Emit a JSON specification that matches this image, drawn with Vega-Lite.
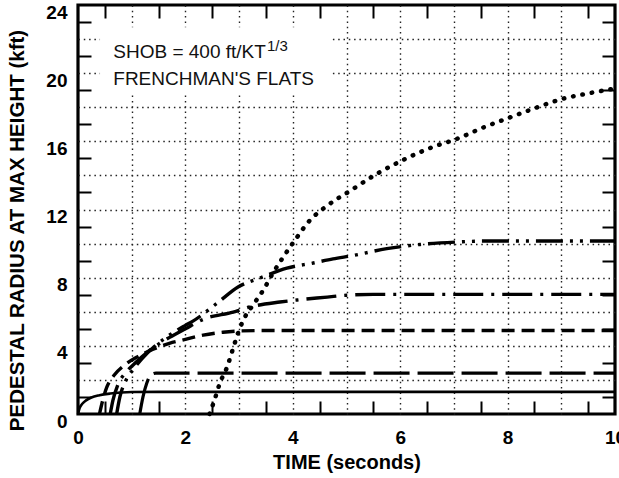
{
  "$schema": "https://vega.github.io/schema/vega-lite/v6.json",
  "width": 537,
  "height": 409,
  "autosize": "none",
  "padding": {"left": 78, "top": 5, "right": 4, "bottom": 64},
  "background": "white",
  "config": {"view": {"stroke": "black", "strokeWidth": 3.2}, "font": "Liberation Sans"},
  "datasets": {
    "curves": [
      {"s": "solid", "t": 0, "r": 0}, {"s": "solid", "t": 0.03, "r": 0.35}, {"s": "solid", "t": 0.08, "r": 0.6}, {"s": "solid", "t": 0.15, "r": 0.8}, {"s": "solid", "t": 0.25, "r": 0.97}, {"s": "solid", "t": 0.4, "r": 1.1}, {"s": "solid", "t": 0.6, "r": 1.2}, {"s": "solid", "t": 0.8, "r": 1.26}, {"s": "solid", "t": 1.0, "r": 1.29}, {"s": "solid", "t": 1.5, "r": 1.3}, {"s": "solid", "t": 10, "r": 1.3},
      {"s": "longdash", "t": 1.15, "r": 0}, {"s": "longdash", "t": 1.21, "r": 1.0}, {"s": "longdash", "t": 1.28, "r": 1.8}, {"s": "longdash", "t": 1.36, "r": 2.3}, {"s": "longdash", "t": 1.45, "r": 2.4}, {"s": "longdash", "t": 10, "r": 2.4},
      {"s": "meddash", "t": 0.4, "r": 0}, {"s": "meddash", "t": 0.46, "r": 0.8}, {"s": "meddash", "t": 0.54, "r": 1.6}, {"s": "meddash", "t": 0.68, "r": 2.3}, {"s": "meddash", "t": 0.88, "r": 2.9}, {"s": "meddash", "t": 1.1, "r": 3.35}, {"s": "meddash", "t": 1.4, "r": 3.8}, {"s": "meddash", "t": 1.7, "r": 4.15}, {"s": "meddash", "t": 2.0, "r": 4.38}, {"s": "meddash", "t": 2.33, "r": 4.63}, {"s": "meddash", "t": 2.7, "r": 4.8}, {"s": "meddash", "t": 3.0, "r": 4.87}, {"s": "meddash", "t": 3.5, "r": 4.9}, {"s": "meddash", "t": 10, "r": 4.9},
      {"s": "dashdot", "t": 0.6, "r": 0}, {"s": "dashdot", "t": 0.65, "r": 0.8}, {"s": "dashdot", "t": 0.74, "r": 1.7}, {"s": "dashdot", "t": 0.88, "r": 2.4}, {"s": "dashdot", "t": 1.05, "r": 2.95}, {"s": "dashdot", "t": 1.3, "r": 3.65}, {"s": "dashdot", "t": 1.6, "r": 4.3}, {"s": "dashdot", "t": 2.0, "r": 5.0}, {"s": "dashdot", "t": 2.33, "r": 5.55}, {"s": "dashdot", "t": 2.89, "r": 5.98}, {"s": "dashdot", "t": 3.2, "r": 6.28}, {"s": "dashdot", "t": 3.76, "r": 6.57}, {"s": "dashdot", "t": 4.08, "r": 6.69}, {"s": "dashdot", "t": 4.64, "r": 6.86}, {"s": "dashdot", "t": 5.0, "r": 6.97}, {"s": "dashdot", "t": 5.5, "r": 7.02}, {"s": "dashdot", "t": 10, "r": 7.02},
      {"s": "dashdotdot", "t": 0.72, "r": 0}, {"s": "dashdotdot", "t": 0.78, "r": 1.0}, {"s": "dashdotdot", "t": 0.88, "r": 1.9}, {"s": "dashdotdot", "t": 1.05, "r": 2.7}, {"s": "dashdotdot", "t": 1.3, "r": 3.6}, {"s": "dashdotdot", "t": 1.6, "r": 4.4}, {"s": "dashdotdot", "t": 2.0, "r": 5.2}, {"s": "dashdotdot", "t": 2.14, "r": 5.45}, {"s": "dashdotdot", "t": 2.59, "r": 6.5}, {"s": "dashdotdot", "t": 2.98, "r": 7.45}, {"s": "dashdotdot", "t": 3.39, "r": 7.98}, {"s": "dashdotdot", "t": 3.89, "r": 8.56}, {"s": "dashdotdot", "t": 4.38, "r": 8.86}, {"s": "dashdotdot", "t": 4.75, "r": 9.1}, {"s": "dashdotdot", "t": 5.12, "r": 9.3}, {"s": "dashdotdot", "t": 5.75, "r": 9.7}, {"s": "dashdotdot", "t": 6.37, "r": 9.95}, {"s": "dashdotdot", "t": 7.1, "r": 10.1}, {"s": "dashdotdot", "t": 7.6, "r": 10.15}, {"s": "dashdotdot", "t": 10, "r": 10.15},
      {"s": "dotted", "t": 2.45, "r": 0}, {"s": "dotted", "t": 2.55, "r": 0.9}, {"s": "dotted", "t": 2.64, "r": 1.8}, {"s": "dotted", "t": 2.77, "r": 2.7}, {"s": "dotted", "t": 2.89, "r": 3.87}, {"s": "dotted", "t": 2.98, "r": 4.75}, {"s": "dotted", "t": 3.11, "r": 5.7}, {"s": "dotted", "t": 3.26, "r": 6.4}, {"s": "dotted", "t": 3.45, "r": 7.27}, {"s": "dotted", "t": 3.63, "r": 8.27}, {"s": "dotted", "t": 3.82, "r": 9.2}, {"s": "dotted", "t": 4.04, "r": 10.2}, {"s": "dotted", "t": 4.3, "r": 11.3}, {"s": "dotted", "t": 4.63, "r": 12.2}, {"s": "dotted", "t": 5.07, "r": 13.1}, {"s": "dotted", "t": 5.57, "r": 14.1}, {"s": "dotted", "t": 6.05, "r": 14.9}, {"s": "dotted", "t": 6.6, "r": 15.66}, {"s": "dotted", "t": 7.06, "r": 16.15}, {"s": "dotted", "t": 7.54, "r": 16.8}, {"s": "dotted", "t": 8.04, "r": 17.4}, {"s": "dotted", "t": 8.47, "r": 17.9}, {"s": "dotted", "t": 9.03, "r": 18.5}, {"s": "dotted", "t": 9.48, "r": 18.8}, {"s": "dotted", "t": 10, "r": 19.1}
    ]
  },
  "resolve": {"axis": {"x": "independent", "y": "independent"}},
  "layer": [
    {
      "data": {"values": [{}]},
      "mark": {"type": "rect", "color": "white"},
      "encoding": {
        "x": {"datum": 0.41, "type": "quantitative", "scale": {"domain": [0, 10], "nice": false, "zero": false},
          "axis": {"orient": "bottom", "values": [1, 2, 3, 4, 5, 6, 7, 8, 9], "grid": true, "gridDash": [1.5, 3.8], "gridColor": "#222", "gridWidth": 1.4, "labels": false, "ticks": false, "domain": false, "title": null}},
        "x2": {"datum": 4.7},
        "y": {"datum": 18.9, "type": "quantitative", "scale": {"domain": [0, 24], "nice": false, "zero": false},
          "axis": {"orient": "left", "values": [2, 4, 6, 8, 10, 12, 14, 16, 18, 20, 22], "grid": true, "gridDash": [1.5, 3.8], "gridColor": "#222", "gridWidth": 1.4, "labels": false, "ticks": false, "domain": false, "title": null}},
        "y2": {"datum": 22.7}
      }
    },
    {
      "data": {"name": "curves"},
      "transform": [{"filter": "datum.s === 'solid'"}],
      "mark": {"type": "line", "color": "black", "strokeWidth": 2.6, "interpolate": "monotone"},
      "encoding": {
        "x": {"field": "t", "type": "quantitative",
          "axis": {"orient": "bottom", "values": [0, 2, 4, 6, 8, 10], "grid": false, "ticks": false, "domain": false, "labelFlush": false, "labelFontSize": 19, "labelFontWeight": "bold", "labelColor": "black", "labelPadding": 14,
            "title": "TIME (seconds)", "titleFontSize": 20, "titleFontWeight": "bold", "titleColor": "black", "titleBaseline": "alphabetic", "titleY": 54}},
        "y": {"field": "r", "type": "quantitative",
          "axis": {"orient": "left", "values": [0, 4, 8, 12, 16, 20, 24], "grid": false, "ticks": false, "domain": false, "labelFlush": false, "labelFontSize": 19, "labelFontWeight": "bold", "labelColor": "black", "labelPadding": 11, "labelOffset": 7,
            "title": "PEDESTAL RADIUS AT MAX HEIGHT (kft)", "titleFontSize": 20.5, "titleFontWeight": "bold", "titleColor": "black", "titleBaseline": "alphabetic", "titleX": -55, "titleY": 225}}
      }
    },
    {
      "data": {"name": "curves"},
      "transform": [{"filter": "datum.s === 'longdash'"}],
      "mark": {"type": "line", "color": "black", "strokeWidth": 3.2, "strokeDash": [36, 8], "interpolate": "monotone"},
      "encoding": {
        "x": {"field": "t", "type": "quantitative",
          "axis": {"orient": "bottom", "values": [0.5, 1.5, 2.5, 3.5, 4.5, 5.5, 6.5, 7.5, 8.5, 9.5], "offset": -13, "tickSize": 13, "tickWidth": 2, "tickColor": "black", "labels": false, "domain": false, "grid": false, "title": null}},
        "y": {"field": "r", "type": "quantitative",
          "axis": {"orient": "left", "values": [1, 3, 5, 7, 9, 11, 13, 15, 17, 19, 21, 23], "offset": -13, "tickSize": 13, "tickWidth": 2, "tickColor": "black", "labels": false, "domain": false, "grid": false, "title": null}}
      }
    },
    {
      "data": {"name": "curves"},
      "transform": [{"filter": "datum.s === 'meddash'"}],
      "mark": {"type": "line", "color": "black", "strokeWidth": 3.4, "strokeDash": [13, 7], "interpolate": "monotone"},
      "encoding": {
        "x": {"field": "t", "type": "quantitative",
          "axis": {"orient": "top", "values": [0.5, 1.5, 2.5, 3.5, 4.5, 5.5, 6.5, 7.5, 8.5, 9.5], "offset": -13, "tickSize": 13, "tickWidth": 2, "tickColor": "black", "labels": false, "domain": false, "grid": false, "title": null}},
        "y": {"field": "r", "type": "quantitative",
          "axis": {"orient": "right", "values": [1, 3, 5, 7, 9, 11, 13, 15, 17, 19, 21, 23], "offset": -13, "tickSize": 13, "tickWidth": 2, "tickColor": "black", "labels": false, "domain": false, "grid": false, "title": null}}
      }
    },
    {
      "data": {"name": "curves"},
      "transform": [{"filter": "datum.s === 'dashdot'"}],
      "mark": {"type": "line", "color": "black", "strokeWidth": 3.4, "strokeDash": [30, 8, 3, 8], "interpolate": "monotone"},
      "encoding": {
        "x": {"field": "t", "type": "quantitative", "axis": null},
        "y": {"field": "r", "type": "quantitative", "axis": null}
      }
    },
    {
      "data": {"name": "curves"},
      "transform": [{"filter": "datum.s === 'dashdotdot'"}],
      "mark": {"type": "line", "color": "black", "strokeWidth": 3.4, "strokeDash": [27, 7, 3, 7, 3, 7], "interpolate": "monotone"},
      "encoding": {
        "x": {"field": "t", "type": "quantitative", "axis": null},
        "y": {"field": "r", "type": "quantitative", "axis": null}
      }
    },
    {
      "data": {"name": "curves"},
      "transform": [{"filter": "datum.s === 'dotted'"}],
      "mark": {"type": "line", "color": "black", "strokeWidth": 4.5, "strokeDash": [0.5, 9], "strokeCap": "round", "interpolate": "monotone"},
      "encoding": {
        "x": {"field": "t", "type": "quantitative", "axis": null},
        "y": {"field": "r", "type": "quantitative", "axis": null}
      }
    },
    {
      "data": {"values": [{}]},
      "mark": {"type": "text", "align": "left", "baseline": "alphabetic", "fontSize": 19, "color": "#111"},
      "encoding": {
        "x": {"datum": 0.657, "type": "quantitative", "axis": null},
        "y": {"datum": 20.87, "type": "quantitative", "axis": null},
        "text": {"value": "SHOB = 400 ft/KT"}
      }
    },
    {
      "data": {"values": [{}]},
      "mark": {"type": "text", "align": "left", "baseline": "alphabetic", "fontSize": 15, "color": "#111"},
      "encoding": {
        "x": {"datum": 3.52, "type": "quantitative", "axis": null},
        "y": {"datum": 21.3, "type": "quantitative", "axis": null},
        "text": {"value": "1/3"}
      }
    },
    {
      "data": {"values": [{}]},
      "mark": {"type": "text", "align": "left", "baseline": "alphabetic", "fontSize": 19, "color": "#111"},
      "encoding": {
        "x": {"datum": 0.657, "type": "quantitative", "axis": null},
        "y": {"datum": 19.3, "type": "quantitative", "axis": null},
        "text": {"value": "FRENCHMAN'S FLATS"}
      }
    }
  ]
}
